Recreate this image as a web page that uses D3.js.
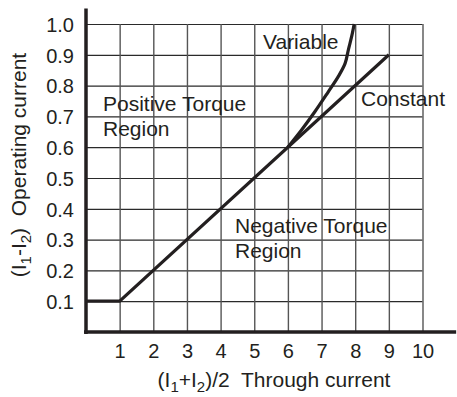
<!DOCTYPE html>
<html>
<head>
<meta charset="utf-8">
<script src="https://cdn.jsdelivr.net/npm/d3@7"></script>
<style>
  body { margin: 0; background: #fff; }
  text { font-family: "Liberation Sans", Arial, Helvetica, sans-serif; fill: #231f20; }
</style>
</head>
<body>
<div id="chart"></div>
<script>
// podaci
const xTicks = [1, 2, 3, 4, 5, 6, 7, 8, 9, 10];
const yTicks = [0.1, 0.2, 0.3, 0.4, 0.5, 0.6, 0.7, 0.8, 0.9, 1.0];

const constantX = [0, 1, 9];
const constantY = [0.1, 0.1, 0.9];

const variableX = [6.0, 6.4, 6.8, 7.2, 7.5, 7.7, 7.8, 7.9, 7.97];
const variableY = [0.6, 0.655, 0.715, 0.78, 0.83, 0.872, 0.918, 0.962, 1.0];

const dim = { sirina: 457, visina: 397 };
const ink = "#231f20";

const svg = d3.select("#chart")
    .append("svg")
    .attr("width", dim.sirina)
    .attr("height", dim.visina);

const x = d3.scaleLinear().domain([0, 10]).range([86, 422.5]);
const y = d3.scaleLinear().domain([0, 1]).range([332, 24]);

// mreza + oznake osi
const yAxis = svg.append("g")
    .attr("transform", `translate(${x(0)},0)`)
    .call(d3.axisLeft(y)
        .tickValues(yTicks)
        .tickFormat(d3.format(".1f"))
        .tickSize(-(x(10) - x(0)))
        .tickPadding(12));
yAxis.select(".domain").remove();
yAxis.selectAll(".tick line").attr("stroke", "#2a2a2a").attr("stroke-width", 1.2);
yAxis.selectAll(".tick text")
    .attr("font-size", 20)
    .attr("dy", "0.36em")
    .attr("font-family", "Liberation Sans, Arial, sans-serif")
    .attr("fill", ink);

const xAxis = svg.append("g")
    .attr("transform", `translate(0,${y(0)})`)
    .call(d3.axisBottom(x)
        .tickValues(xTicks)
        .tickSize(-(y(0) - y(1)))
        .tickPadding(12));
xAxis.select(".domain").remove();
xAxis.selectAll(".tick line").attr("stroke", "#555").attr("stroke-width", 1.4);
xAxis.selectAll(".tick text")
    .attr("font-size", 20)
    .attr("font-family", "Liberation Sans, Arial, sans-serif")
    .attr("fill", ink);

// glavne osi (debele)
svg.append("line")
    .attr("x1", x(0)).attr("x2", x(0))
    .attr("y1", y(1.05)).attr("y2", y(0) + 2)
    .attr("stroke", ink).attr("stroke-width", 3.5);
svg.append("line")
    .attr("x1", x(0) - 2).attr("x2", x(11))
    .attr("y1", y(0)).attr("y2", y(0))
    .attr("stroke", ink).attr("stroke-width", 3.5);

// krivulje
const constantData = constantX.map((d, i) => [d, constantY[i]]);
const variableData = variableX.map((d, i) => [d, variableY[i]]);

svg.append("path")
    .datum(constantData)
    .attr("d", d3.line().x(d => x(d[0])).y(d => y(d[1])))
    .attr("fill", "none")
    .attr("stroke", ink)
    .attr("stroke-width", 3.2);

svg.append("path")
    .datum(variableData)
    .attr("d", d3.line().x(d => x(d[0])).y(d => y(d[1])).curve(d3.curveCatmullRom.alpha(0.5)))
    .attr("fill", "none")
    .attr("stroke", ink)
    .attr("stroke-width", 3.2);

// natpisi
const fs = 21;
function label(tx, ty, str) {
    svg.append("text")
        .attr("x", tx).attr("y", ty)
        .attr("font-size", fs)
        .text(str);
}
label(263, 49, "Variable");
label(361, 106, "Constant");
label(103, 111, "Positive Torque");
label(103, 136, "Region");
label(235, 233, "Negative Torque");
label(235, 258, "Region");

// naslov x osi
const xt = svg.append("text")
    .attr("x", 274).attr("y", 387)
    .attr("text-anchor", "middle")
    .attr("font-size", fs)
    .style("white-space", "pre");
xt.append("tspan").text("(I");
xt.append("tspan").attr("font-size", 15).attr("dy", 5).text("1");
xt.append("tspan").attr("dy", -5).text("+I");
xt.append("tspan").attr("font-size", 15).attr("dy", 5).text("2");
xt.append("tspan").attr("dy", -5).text(")/2  Through current");

// naslov y osi
const yt = svg.append("text")
    .attr("transform", "translate(26,165) rotate(-90)")
    .attr("text-anchor", "middle")
    .attr("font-size", fs)
    .style("white-space", "pre");
yt.append("tspan").text("(I");
yt.append("tspan").attr("font-size", 15).attr("dy", 5).text("1");
yt.append("tspan").attr("dy", -5).text("-I");
yt.append("tspan").attr("font-size", 15).attr("dy", 5).text("2");
yt.append("tspan").attr("dy", -5).text(")  Operating current");
</script>
</body>
</html>
